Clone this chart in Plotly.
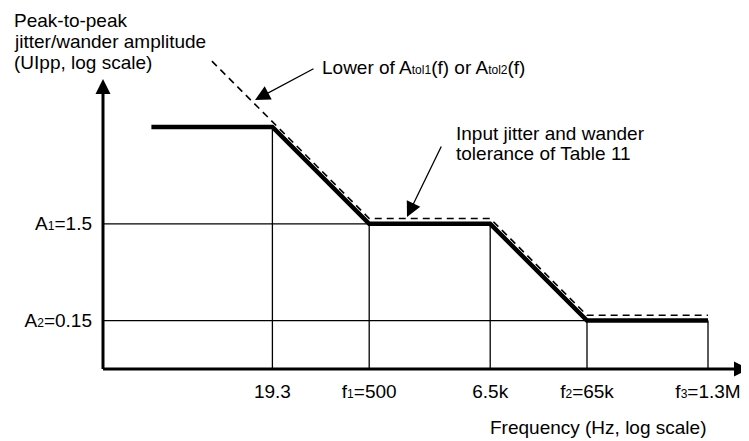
import plotly.graph_objects as go

# ---------------- data (schematic positions, real labels) ----------------
freq_labels = ["19.3", "f<span style='font-size:12px'>1</span>=500", "6.5k",
               "f<span style='font-size:12px'>2</span>=65k", "f<span style='font-size:12px'>3</span>=1.3M"]
freq_pos = [0, 4, 9, 13, 18]

amp_labels = ["A<span style='font-size:12px'>1</span>=1.5", "A<span style='font-size:12px'>2</span>=0.15"]
amp_pos = [4, 0]

# Input jitter and wander tolerance (thick)
tol_x = [-5, 0, 4, 9, 13, 18]
tol_y = [8, 8, 4, 4, 0, 0]

# Lower of Atol1(f) or Atol2(f) (dashed)
low_x = [-2.5, 4, 9, 13, 18]
low_y = [10.72, 4.22, 4.22, 0.22, 0.22]

# grid segments: verticals rise to the tolerance curve
vgrid_top = [8, 4, 4, 0, 0]
hgrid_end = [9, 18]

# ---------------- layout helpers ----------------
OFF = 8                      # page body margin
W, H = 749 - OFF, 441 - OFF
ML, MB = 103 - OFF, 72
U = 24.2
X0 = -7.0
Y0 = -2.0
PW, PH = W - ML, H - MB
X1 = X0 + PW / U
Y1 = Y0 + PH / U


def X(px):
    return X0 + (px - OFF - ML) / U


def Y(py):
    return Y0 + (PH - (py - OFF)) / U


def PX(px):
    return (px - OFF - ML) / PW


def PY(py):
    return (PH - (py - OFF)) / PH


FONT = "Liberation Sans, Arial, Helvetica, sans-serif"
SUB = "<span style='font-size:12px'>"

fig = go.Figure()

# vertical grid lines
for xv, yt in zip(freq_pos, vgrid_top):
    fig.add_trace(go.Scatter(x=[xv, xv], y=[Y0, yt], mode="lines",
                             line=dict(color="black", width=1.3),
                             hoverinfo="skip", showlegend=False))
# horizontal grid lines
for yv, xe in zip(amp_pos, hgrid_end):
    fig.add_trace(go.Scatter(x=[X0, xe], y=[yv, yv], mode="lines",
                             line=dict(color="black", width=1.3),
                             hoverinfo="skip", showlegend=False))

# dashed limit
fig.add_trace(go.Scatter(x=low_x, y=low_y, mode="lines",
                         line=dict(color="black", width=1.6, dash="7px,5px"),
                         hoverinfo="skip", showlegend=False))
# thick tolerance curve
fig.add_trace(go.Scatter(x=tol_x, y=tol_y, mode="lines",
                         line=dict(color="black", width=4.5),
                         hoverinfo="skip", showlegend=False))

annotations = []
# axis arrows
annotations.append(dict(x=X(749), y=Y0, ax=X0 - 0.06, ay=Y0, xref="x", yref="y",
                        axref="x", ayref="y", text="", showarrow=True,
                        arrowhead=2, arrowsize=1, arrowwidth=3, arrowcolor="black"))
annotations.append(dict(x=X0, y=Y(79), ax=X0, ay=Y0 - 0.06, xref="x", yref="y",
                        axref="x", ayref="y", text="", showarrow=True,
                        arrowhead=2, arrowsize=1, arrowwidth=3, arrowcolor="black"))
# pointer arrows
annotations.append(dict(x=X(255), y=Y(100), ax=X(315), ay=Y(68), xref="x", yref="y",
                        axref="x", ayref="y", text="", showarrow=True,
                        arrowhead=2, arrowsize=2.3, arrowwidth=1.3, arrowcolor="black"))
annotations.append(dict(x=X(407), y=Y(217), ax=X(442), ay=Y(145), xref="x", yref="y",
                        axref="x", ayref="y", text="", showarrow=True,
                        arrowhead=2, arrowsize=2.3, arrowwidth=1.3, arrowcolor="black"))


def label(text, px, py, anchor="left"):
    annotations.append(dict(x=PX(px), y=PY(py), xref="paper", yref="paper", text=text,
                            showarrow=False, xanchor=anchor, yanchor="middle",
                            font=dict(family=FONT, size=19, color="black")))


label("Peak-to-peak", 12, 20)
label("jitter/wander amplitude", 12, 42)
label("(UIpp, log scale)", 12, 63)
label("Lower of A" + SUB + "tol1</span>(f) or A" + SUB + "tol2</span>(f)", 320, 67)
label("Input jitter and wander", 454, 133)
label("tolerance of Table 11", 454, 153)
label("Frequency (Hz, log scale)", 488, 427)

fig.update_layout(
    width=W, height=H,
    margin=dict(l=ML, r=0, t=0, b=MB, pad=0),
    paper_bgcolor="white", plot_bgcolor="white",
    showlegend=False,
    annotations=annotations,
    font=dict(family=FONT, size=19, color="black"),
    xaxis=dict(range=[X0, X1], showgrid=False, zeroline=False, showline=False,
               tickmode="array", tickvals=freq_pos, ticktext=freq_labels,
               ticks="", ticklabelstandoff=9,
               tickfont=dict(family=FONT, size=19, color="black"), fixedrange=True),
    yaxis=dict(range=[Y0, Y1], showgrid=False, zeroline=False, showline=False,
               tickmode="array", tickvals=amp_pos, ticktext=amp_labels,
               ticks="", ticklabelstandoff=10,
               tickfont=dict(family=FONT, size=19, color="black"), fixedrange=True),
)

fig.write_html("out.html")
